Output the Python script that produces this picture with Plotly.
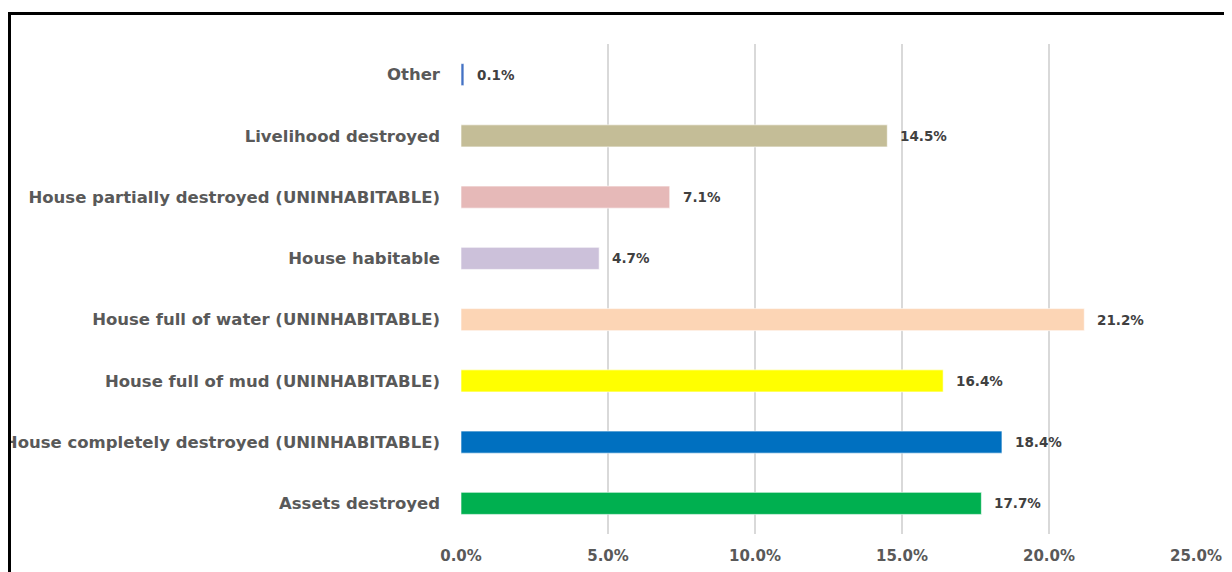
import plotly.graph_objects as go

categories = [
    "Assets destroyed",
    "House completely destroyed (UNINHABITABLE)",
    "House full of mud (UNINHABITABLE)",
    "House full of water (UNINHABITABLE)",
    "House habitable",
    "House partially destroyed (UNINHABITABLE)",
    "Livelihood destroyed",
    "Other",
]
values = [17.7, 18.4, 16.4, 21.2, 4.7, 7.1, 14.5, 0.1]
colors = ["#00B050", "#0070C0", "#FFFF00", "#FCD5B5", "#CCC1DA", "#E6B9B8", "#C4BD97", "#4472C4"]
x_ticks = [0, 5, 10, 15, 20, 25]
x_tick_labels = ["0.0%", "5.0%", "10.0%", "15.0%", "20.0%", "25.0%"]

# page has an 8px body margin; figure coords = page coords - 8
W, H = 1224, 564
L, R, T, B = 453, 36, 36, 38
pw, ph = W - L - R, H - T - B
FONT = "DejaVu Sans"

fig = go.Figure()
fig.add_trace(go.Bar(
    y=categories, x=values, orientation="h",
    marker=dict(color=colors, line=dict(color="rgba(255,255,255,0.6)", width=1)),
    width=0.36, hoverinfo="skip",
))

for c, v in zip(categories, values):
    fig.add_annotation(
        x=v, y=c, xref="x", yref="y", text=f"<b>{v:.1f}%</b>",
        showarrow=False, xanchor="left", yanchor="middle", xshift=11,
        font=dict(family=FONT, size=13.5, color="#404040"),
    )

def px2x(px):
    return (px - L) / pw

def py2y(py):
    return (H - B - py) / ph

shapes = [
    # white strip clipping text left of the frame
    dict(type="rect", xref="paper", yref="paper", x0=px2x(-10), x1=px2x(1), y0=py2y(H + 10), y1=py2y(-10),
         fillcolor="white", line=dict(width=0), layer="above"),
    # frame left
    dict(type="line", xref="paper", yref="paper", x0=px2x(1.5), x1=px2x(1.5), y0=py2y(4), y1=py2y(H + 10),
         line=dict(color="black", width=3), layer="above"),
    # frame top
    dict(type="line", xref="paper", yref="paper", x0=px2x(0), x1=px2x(W + 10), y0=py2y(5.5), y1=py2y(5.5),
         line=dict(color="black", width=3), layer="above"),
]

fig.update_layout(
    width=W, height=H,
    margin=dict(l=L, r=R, t=T, b=B, pad=0, autoexpand=False),
    paper_bgcolor="white", plot_bgcolor="white",
    showlegend=False,
    shapes=shapes,
    xaxis=dict(
        range=[0, 25], tickvals=x_ticks, ticktext=[f"<b>{t}</b>" for t in x_tick_labels],
        showgrid=True, gridcolor="#D9D9D9", gridwidth=2, zeroline=False, showline=False,
        tickfont=dict(family=FONT, size=15, color="#595959"), ticks="", ticklabelstandoff=11,
        fixedrange=True, automargin=False,
    ),
    yaxis=dict(
        categoryorder="array", categoryarray=categories, range=[-0.5, 7.5],
        showgrid=False, zeroline=False, showline=False, ticks="",
        tickvals=categories, ticktext=[f"<b>{c}</b>" for c in categories],
        tickfont=dict(family=FONT, size=16.5, color="#595959"), ticklabelstandoff=20,
        fixedrange=True, automargin=False,
    ),
)

fig.write_html("out.html")
